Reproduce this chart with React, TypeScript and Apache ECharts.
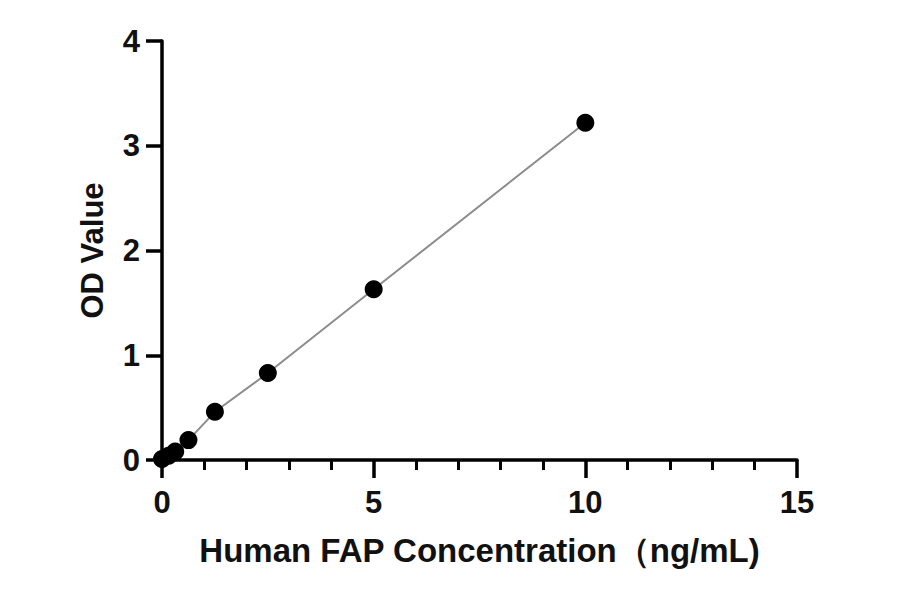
import React, { useEffect, useRef } from "react";
import * as echarts from "echarts";

const concentrations = [0, 0.156, 0.3125, 0.625, 1.25, 2.5, 5, 10];
const odValues = [0.01, 0.04, 0.08, 0.19, 0.46, 0.83, 1.63, 3.22];
const xAxisName = "Human FAP Concentration（ng/mL)";
const yAxisName = "OD Value";

const FONT = "'Liberation Sans', Arial, sans-serif";

export default function App() {
  const ref = useRef<HTMLDivElement>(null);
  useEffect(() => {
    if (!ref.current) return;
    const chart = echarts.init(ref.current, null, { renderer: "svg" });
    const data = concentrations.map((x, i) => [x, odValues[i]]);
    chart.setOption({
      animation: false,
      backgroundColor: "#ffffff",
      grid: { left: 162, right: 103, top: 41, bottom: 134, containLabel: false },
      xAxis: {
        type: "value",
        min: 0,
        max: 15,
        interval: 5,
        name: xAxisName,
        nameLocation: "middle",
        nameGap: 74,
        nameTextStyle: { color: "#111", fontSize: 33, fontWeight: "bold", fontFamily: FONT },
        axisLine: { show: true, lineStyle: { color: "#000", width: 3.5 } },
        axisTick: { show: true, inside: false, length: 18, lineStyle: { color: "#000", width: 3.5 } },
        minorTick: { show: true, splitNumber: 5, length: 10, lineStyle: { color: "#000", width: 3 } },
        splitLine: { show: false },
        axisLabel: { color: "#111", fontSize: 31, fontWeight: "bold", fontFamily: FONT, margin: 27 },
      },
      yAxis: {
        type: "value",
        min: 0,
        max: 4,
        interval: 1,
        name: yAxisName,
        nameLocation: "middle",
        nameGap: 54,
        nameRotate: 90,
        nameTextStyle: { color: "#111", fontSize: 31, fontWeight: "bold", fontFamily: FONT },
        axisLine: { show: true, lineStyle: { color: "#000", width: 3.5 } },
        axisTick: { show: true, inside: false, length: 16, lineStyle: { color: "#000", width: 3.5 } },
        splitLine: { show: false },
        axisLabel: { color: "#111", fontSize: 31, fontWeight: "bold", fontFamily: FONT, margin: 22 },
      },
      series: [
        {
          type: "line",
          data,
          symbol: "circle",
          symbolSize: 18,
          lineStyle: { color: "#8c8c8c", width: 2 },
          itemStyle: { color: "#000" },
          z: 3,
        },
      ],
    });
    return () => chart.dispose();
  }, []);
  return <div ref={ref} style={{ width: 900, height: 594, margin: -8 }} />;
}
